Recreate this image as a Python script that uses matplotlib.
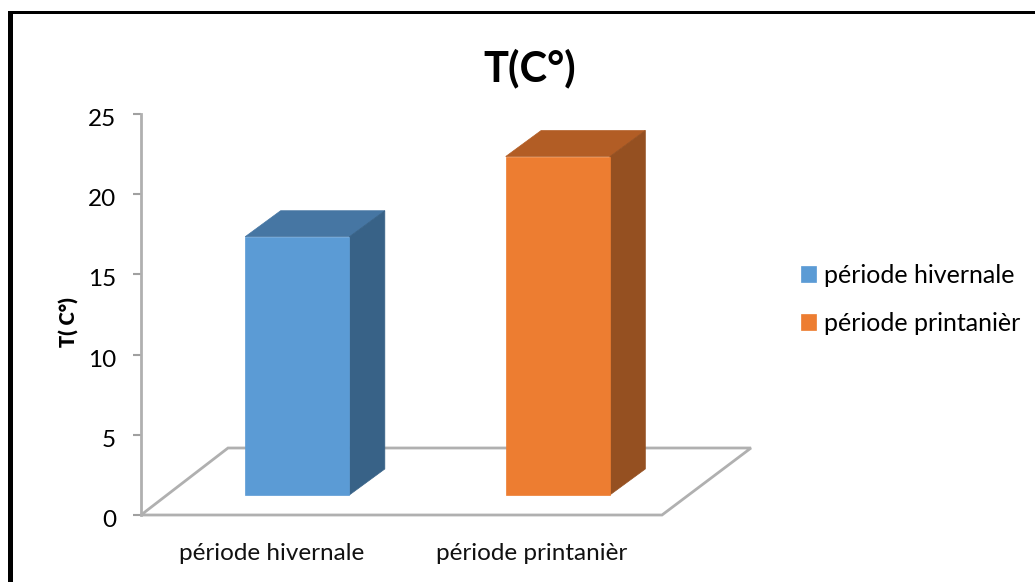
import matplotlib
matplotlib.use("Agg")
import matplotlib.pyplot as plt
from matplotlib.patches import Polygon, Rectangle
from matplotlib.transforms import ScaledTranslation

categories = ["période hivernale", "période printanièr"]
temperatures = [16.1, 21.1]
y_ticks = [0, 5, 10, 15, 20, 25]
front_colors = ["#5b9bd5", "#ed7d31"]
top_colors = ["#4676a3", "#b25d25"]
side_colors = ["#386287", "#955021"]

W, H = 1035, 582
plt.rcParams["font.family"] = ["Lato", "DejaVu Sans"]

fig = plt.figure(figsize=(W / 100, H / 100), dpi=100)
ax = fig.add_axes([141 / W, 1 - 515 / H, 521 / W, 401 / H])
ax.set_xlim(-0.5, 1.5)
ax.set_ylim(0, 25)

# fake 3d: depth is a shift in data units
depth_x = 0.136
depth_y = 1.62
bar_w = 0.4
shift = 0.1
base = 1.25

# floor
floor_dx = 89 / 260.5
floor_dy = 67 / 16.04
ax.add_patch(Polygon([(-0.5, 0), (1.5, 0), (1.5 + floor_dx, floor_dy), (-0.5 + 87 / 260.5, floor_dy)],
                     closed=True, fc="white", ec="#b0b0b0", lw=2, clip_on=False, zorder=1))

for i, t in enumerate(temperatures):
    x0 = i - bar_w / 2 + shift
    x1 = x0 + bar_w
    top = base + t
    ax.add_patch(Polygon([(x0, top), (x1, top), (x1 + depth_x, top + depth_y), (x0 + depth_x, top + depth_y)],
                         closed=True, fc=top_colors[i], ec=top_colors[i], lw=0.5, clip_on=False, zorder=3))
    ax.add_patch(Polygon([(x1, base), (x1 + depth_x, base + depth_y), (x1 + depth_x, top + depth_y), (x1, top)],
                         closed=True, fc=side_colors[i], ec=side_colors[i], lw=0.5, clip_on=False, zorder=3))
    ax.add_patch(Rectangle((x0, base), bar_w, t, fc=front_colors[i], ec=front_colors[i], lw=0.5,
                           zorder=4, label=categories[i]))

for s in ["top", "right", "bottom"]:
    ax.spines[s].set_visible(False)
ax.spines["left"].set_color("#b0b0b0")
ax.spines["left"].set_linewidth(2)
ax.set_yticks(y_ticks)
ax.set_xticks(range(len(categories)), categories)
ax.tick_params(axis="y", length=6, width=1.5, color="#a0a0a0", labelsize=17.5, pad=12, labelcolor="black")
ax.tick_params(axis="x", length=0, labelsize=17.5, pad=20, labelcolor="#111111")

# numbers sit a little below their ticks
nudge = ScaledTranslation(0, -2.5 / 72, fig.dpi_scale_trans)
for lab in ax.get_yticklabels():
    lab.set_transform(lab.get_transform() + nudge)

ax.set_ylabel("T( C°)", fontsize=14.5, fontweight="heavy")
ax.yaxis.set_label_coords(79 / W, 1 - 322 / H, transform=fig.transFigure)
fig.text(530 / W, 1 - 68 / H, "T(C°)", fontsize=30, fontweight="bold", ha="center", va="center")

ax.legend(loc="upper left", bbox_to_anchor=(801 / W, 1 - 264 / H), bbox_transform=fig.transFigure,
          frameon=False, fontsize=18, handlelength=0.6, handleheight=0.6, handletextpad=0.3,
          labelspacing=1.0, borderpad=0, borderaxespad=0)

# black frame, only left and top show
fig.add_artist(Rectangle((8 / W, 0), 4.7 / W, 1 - 11 / H, transform=fig.transFigure, fc="black", ec="none"))
fig.add_artist(Rectangle((8 / W, 1 - 14 / H), 1 - 8 / W, 3 / H, transform=fig.transFigure, fc="black", ec="none"))

fig.savefig("out.png", dpi=100)
